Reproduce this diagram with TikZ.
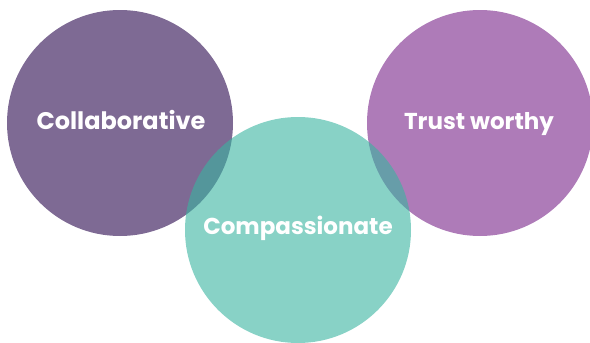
\documentclass[tikz,border=0pt]{standalone}
\usepackage{fontspec}
\setmainfont{Poppins}
\definecolor{cpurple}{RGB}{126,106,148}
\definecolor{cviolet}{RGB}{174,123,184}
\definecolor{cteal}{RGB}{57,180,160}
\begin{document}
\begin{tikzpicture}[x=1pt,y=-1pt,
  bubble/.style={circle,minimum size=226pt,inner sep=0pt},
  lbl/.style={text=white,font=\bfseries\fontsize{24}{28}\selectfont}]
\useasboundingbox (0,0) rectangle (590,343);
\node[bubble,fill=cpurple] (c1) at (120,123) {};
\node[bubble,fill=cviolet] (c3) at (480,123) {};
\node[bubble,fill=cteal,fill opacity=0.6] (c2) at (298,230) {};
\node[lbl] (t1) at (121,120) {Collaborative};
\node[lbl] (t3) at (479,124) {\fontsize{23}{28}\selectfont Trust worthy};
\node[lbl] (t2) at (298,228) {\fontsize{23}{28}\selectfont Compassionate};
\end{tikzpicture}
\end{document}
